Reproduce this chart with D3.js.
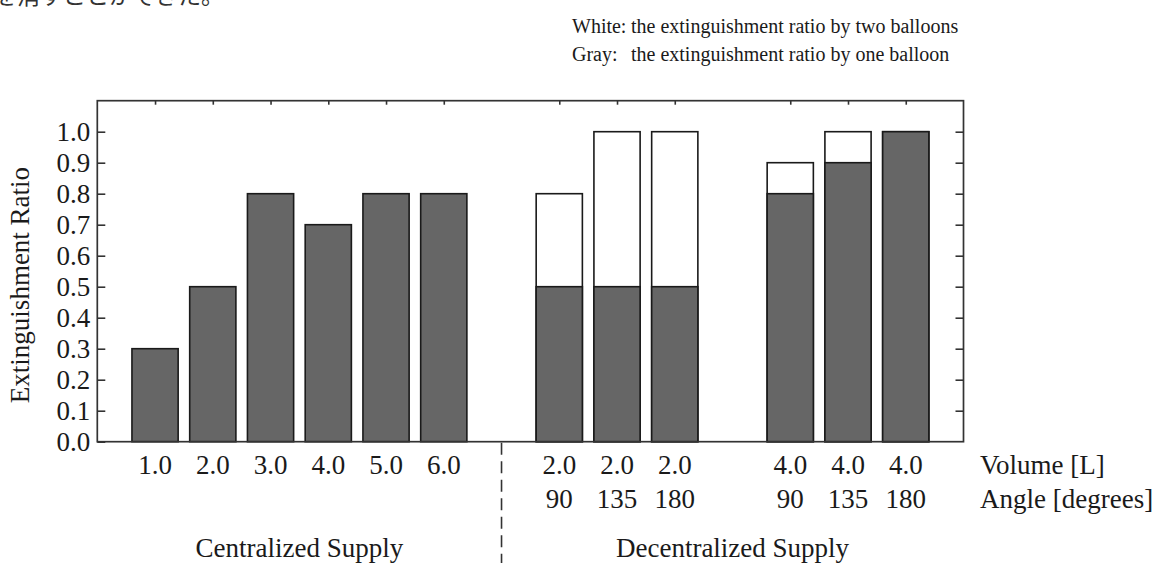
<!DOCTYPE html>
<html>
<head>
<meta charset="utf-8">
<script src="https://cdn.jsdelivr.net/npm/d3@7"></script>
<style>
  html, body { margin: 0; padding: 0; background: #fff; }
  svg { display: block; }
  text { font-family: "Liberation Serif", "Times New Roman", serif; fill: #1a1a1a; }
</style>
</head>
<body>
<svg id="chart" width="1162" height="563"></svg>
<script>
// ---- data ----
const volumeLabels = ["1.0","2.0","3.0","4.0","5.0","6.0","","2.0","2.0","2.0","","4.0","4.0","4.0"];
const angleLabels  = ["","","","","","","","90","135","180","","90","135","180"];
const oneBalloon   = [0.3,0.5,0.8,0.7,0.8,0.8,null,0.5,0.5,0.5,null,0.8,0.9,1.0];
const twoBalloons  = [null,null,null,null,null,null,null,0.8,1.0,1.0,null,0.9,1.0,1.0];
const yTickValues  = [0.0,0.1,0.2,0.3,0.4,0.5,0.6,0.7,0.8,0.9,1.0];
const groupNames   = ["Centralized Supply","Decentralized Supply"];
const groupStart   = [0,7];
const groupEnd     = [5,13];
const rowTitles    = ["Volume [L]","Angle [degrees]"];
const legendKeys   = ["White:","Gray:"];
const legendTexts  = ["the extinguishment ratio by two balloons","the extinguishment ratio by one balloon"];
const yTitle       = "Extinguishment Ratio";
const topFragment  = "を消すことができた。";

// ---- layout ----
const svg = d3.select("#chart");
const FS = 27;
const x = d3.scaleLinear().domain([-1, 14]).range([97.3, 963.5]);
const y = d3.scaleLinear().domain([0, 1.1]).range([441.7, 100.7]);
const step = x(1) - x(0);
const bw = step * 0.8;
const idx = d3.range(volumeLabels.length);

function addText(g, str, tx, ty, anchor, size, rot) {
  return g.append("text")
    .attr("transform", `translate(${tx},${ty})` + (rot ? ` rotate(${rot})` : ""))
    .attr("text-anchor", anchor)
    .style("font-size", size + "px")
    .text(str);
}

// cut-off Japanese text line at the very top (only its lower part is visible)
svg.append("text")
  .attr("x", -6).attr("y", 4)
  .style("font-family", "'Noto Sans CJK JP', sans-serif")
  .style("font-size", "23px")
  .style("fill", "#333")
  .text(topFragment);

// bars: white (two balloons) first, gray (one balloon) on top
const bars = svg.append("g");
bars.selectAll("rect.two")
  .data(idx.filter(i => twoBalloons[i] != null))
  .join("rect")
  .attr("class", "two")
  .attr("x", i => x(i) - bw / 2)
  .attr("width", bw)
  .attr("y", i => y(twoBalloons[i]))
  .attr("height", i => y(0) - y(twoBalloons[i]))
  .attr("fill", "#ffffff")
  .attr("stroke", "#1a1a1a")
  .attr("stroke-width", 1.6);
bars.selectAll("rect.one")
  .data(idx.filter(i => oneBalloon[i] != null))
  .join("rect")
  .attr("class", "one")
  .attr("x", i => x(i) - bw / 2)
  .attr("width", bw)
  .attr("y", i => y(oneBalloon[i]))
  .attr("height", i => y(0) - y(oneBalloon[i]))
  .attr("fill", "#666666")
  .attr("stroke", "#1a1a1a")
  .attr("stroke-width", 1.6);

// frame
svg.append("rect")
  .attr("x", x(-1)).attr("y", y(1.1))
  .attr("width", x(14) - x(-1)).attr("height", y(0) - y(1.1))
  .attr("fill", "none").attr("stroke", "#333").attr("stroke-width", 1.7);

// left axis with inward ticks
const leftAxis = svg.append("g")
  .attr("transform", `translate(${x(-1)},0)`)
  .call(d3.axisLeft(y).tickValues(yTickValues).tickFormat(d3.format(".1f"))
    .tickSizeInner(-8).tickSizeOuter(0).tickPadding(7));
leftAxis.select(".domain").remove();
leftAxis.selectAll(".tick line").attr("stroke", "#333").attr("stroke-width", 1.6);
leftAxis.selectAll(".tick text").remove();
leftAxis.selectAll(".tick").each(function(d) {
  addText(d3.select(this), d3.format(".1f")(d), -7, 9, "end", FS);
});

// right axis ticks (inward, no labels)
const rightAxis = svg.append("g")
  .attr("transform", `translate(${x(14)},0)`)
  .call(d3.axisRight(y).tickValues(yTickValues.filter(v => v > 0)).tickFormat("")
    .tickSizeInner(-8).tickSizeOuter(0));
rightAxis.select(".domain").remove();
rightAxis.selectAll(".tick line").attr("stroke", "#333").attr("stroke-width", 1.6);

// top axis ticks at bar centres (inward)
const topAxis = svg.append("g")
  .attr("transform", `translate(0,${y(1.1)})`)
  .call(d3.axisTop(x).tickValues(idx.filter(i => oneBalloon[i] != null)).tickFormat("")
    .tickSizeInner(-4).tickSizeOuter(0));
topAxis.select(".domain").remove();
topAxis.selectAll(".tick line").attr("stroke", "#333").attr("stroke-width", 1.6);

// category labels
const lab = svg.append("g");
idx.forEach(i => {
  if (volumeLabels[i]) addText(lab, volumeLabels[i], x(i), 474, "middle", FS);
  if (angleLabels[i]) addText(lab, angleLabels[i], x(i), 508, "middle", FS);
});
addText(lab, rowTitles[0], 980, 474, "start", FS);
addText(lab, rowTitles[1], 980, 508, "start", FS);
groupNames.forEach((g, k) => {
  addText(lab, g, (x(groupStart[k]) + x(groupEnd[k])) / 2, 557, "middle", FS);
});

// dashed divider between groups
svg.append("line")
  .attr("x1", x(6)).attr("x2", x(6))
  .attr("y1", y(0) + 1).attr("y2", 563)
  .attr("stroke", "#333").attr("stroke-width", 1.6)
  .attr("stroke-dasharray", "12,6.5");

// y title
addText(svg, yTitle, 29, 285, "middle", FS, -90);

// legend
const LFS = 20;
addText(svg, legendKeys[0], 572, 33, "start", LFS);
addText(svg, legendTexts[0], 631, 33, "start", LFS);
addText(svg, legendKeys[1], 572, 61, "start", LFS);
addText(svg, legendTexts[1], 631, 61, "start", LFS);
</script>
</body>
</html>
